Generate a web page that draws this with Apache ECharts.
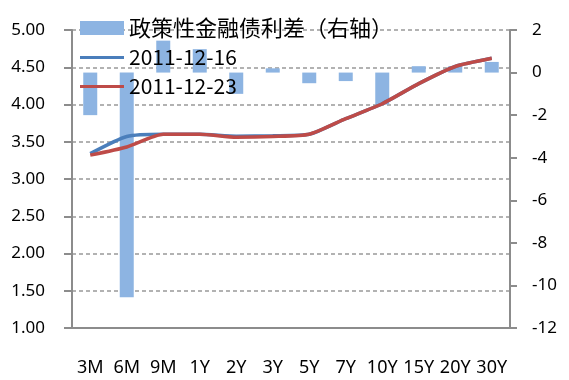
<!DOCTYPE html>
<html><head><meta charset="utf-8">
<script src="https://cdn.jsdelivr.net/npm/echarts@6/dist/echarts.min.js"></script>
<style>html,body{margin:0;padding:0;background:#fff}#c{width:569px;height:380px}</style>
</head><body><div id="c"></div>
<script>
const categories = ['3M','6M','9M','1Y','2Y','3Y','5Y','7Y','10Y','15Y','20Y','30Y'];
const spread = [-2.0,-10.55,1.5,1.1,-1.0,0.2,-0.5,-0.4,-1.5,0.3,0.3,0.5];
const y20111216 = [3.34,3.57,3.60,3.60,3.575,3.58,3.60,3.81,4.01,4.28,4.51,4.62];
const y20111223 = [3.32,3.43,3.60,3.60,3.56,3.57,3.60,3.81,4.01,4.28,4.51,4.62];
const names = ['政策性金融债利差（右轴）','2011-12-16','2011-12-23'];

const axisColor = '#8c8c8c';
const font = '"Noto Sans", "Noto Sans CJK SC", sans-serif';
const lineIcon = 'path://M0,0M44,14M0,5.5H44V8.5H0Z';
const chart = echarts.init(document.getElementById('c'));
chart.setOption({
  animation: false,
  backgroundColor: '#fff',
  textStyle: { fontFamily: font },
  grid: { left: 72, right: 59, top: 30, bottom: 52 },
  legend: {
    orient: 'vertical', left: 80, top: 17, padding: 0, itemWidth: 44, itemHeight: 14, itemGap: 8,
    formatter: n => n === names[0] ? '{cn|' + n + '}' : n,
    textStyle: { fontSize: 21, color: '#000', fontFamily: '"Noto Sans CJK SC", sans-serif',
      rich: { cn: { fontSize: 22, color: '#000', fontFamily: '"Noto Sans CJK SC", sans-serif' } } },
    data: [
      { name: names[0], icon: 'rect' },
      { name: names[1], icon: lineIcon, itemStyle: { color: '#4a7ebb', borderWidth: 0 } },
      { name: names[2], icon: lineIcon, itemStyle: { color: '#be4b48', borderWidth: 0 } }
    ]
  },
  xAxis: {
    type: 'category', data: categories,
    axisLine: { onZero: false, lineStyle: { color: axisColor, width: 2 } },
    axisTick: { length: 10, lineStyle: { color: axisColor, width: 2 } },
    axisLabel: { color: '#000', fontSize: 18, margin: 31, interval: 0 }
  },
  yAxis: [
    { type: 'value', min: 1, max: 5, interval: 0.5, position: 'left',
      axisLine: { show: true, lineStyle: { color: axisColor, width: 2 } },
      axisTick: { show: true, length: 8, lineStyle: { color: axisColor, width: 2 } },
      axisLabel: { color: '#000', fontSize: 17, margin: 27, formatter: v => v.toFixed(2) },
      splitLine: { show: true, lineStyle: { color: '#999', type: [4,3], width: 1.5 } } },
    { type: 'value', min: -12, max: 2, interval: 2, position: 'right',
      axisLine: { show: true, lineStyle: { color: axisColor, width: 2 } },
      axisTick: { show: true, length: 7, lineStyle: { color: axisColor, width: 2 } },
      axisLabel: { color: '#000', fontSize: 17, margin: 22 },
      splitLine: { show: false } }
  ],
  series: [
    { name: names[0], type: 'bar', yAxisIndex: 1, data: spread, barWidth: 14,
      itemStyle: { color: '#8db4e2' }, z: 1 },
    { name: names[1], type: 'line', yAxisIndex: 0, data: y20111216, symbol: 'none', smooth: 0.2,
      lineStyle: { color: '#4a7ebb', width: 3.5 }, itemStyle: { color: '#4a7ebb' }, z: 2 },
    { name: names[2], type: 'line', yAxisIndex: 0, data: y20111223, symbol: 'none', smooth: 0.2,
      lineStyle: { color: '#be4b48', width: 3.5 }, itemStyle: { color: '#be4b48' }, z: 3 }
  ]
});
</script></body></html>
